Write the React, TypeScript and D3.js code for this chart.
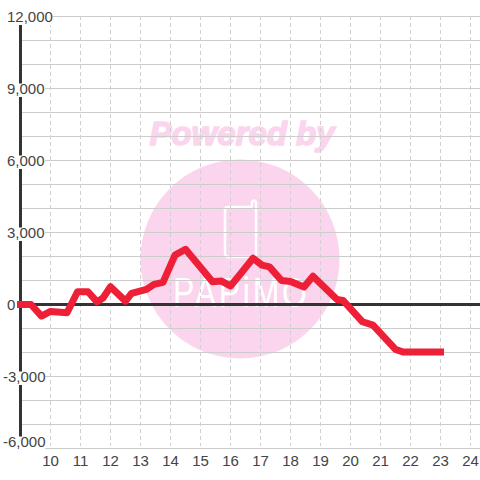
import React from "react";
import * as d3 from "d3";

const hours = [
  9, 9.35, 9.7, 10, 10.55, 10.9, 11.25, 11.55, 11.75, 12, 12.5, 12.7, 13.2,
  13.45, 13.75, 14.15, 14.5, 15.4, 15.7, 16, 16.35, 16.75, 17.05, 17.3, 17.7,
  18, 18.45, 18.75, 19.55, 19.75, 20.4, 20.75, 21.5, 21.75, 23,
];
const values = [
  0, 0, -480, -290, -345, 530, 530, 110, 270, 740, 140, 460, 630, 840, 920,
  2060, 2300, 950, 975, 770, 1300, 1925, 1640, 1570, 1000, 960, 725, 1180, 210,
  170, -720, -860, -1870, -1980, -1980,
];
const xTicks = [10, 11, 12, 13, 14, 15, 16, 17, 18, 19, 20, 21, 22, 23, 24];
const yLabels = [12000, 9000, 6000, 3000, 0, -3000, -6000];
const yGrid = d3.range(-6000, 12001, 1000);

const SIZE = 480;
const FONT = "'Liberation Sans', Arial, sans-serif";
const INK = "#444444";
const PINK = "#fbd5ee";
const GRID = "#cccccc";

const x = d3.scaleLinear().domain([9, 24]).range([20.5, 470.5]);
const y = d3.scaleLinear().domain([12000, -6000]).range([16.5, 448.5]);
// plain hyphen for negatives, as in the original labels
const fmt = (v: number) => d3.format(",")(v).replace("\u2212", "-");

const App: React.FC = () => {
  const line = d3
    .line<number>()
    .x((h) => x(h))
    .y((_, i) => y(values[i]));

  return (
    <svg
      width={SIZE}
      height={SIZE}
      style={{ position: "absolute", left: 0, top: 0 }}
      fontFamily={FONT}
    >
      <rect width={SIZE} height={SIZE} fill="#ffffff" />

      {/* watermark */}
      <circle cx={240} cy={259} r={99.5} fill={PINK} />
      <text
        x={242}
        y={145}
        textAnchor="middle"
        fontSize={33}
        fontWeight="bold"
        fontStyle="italic"
        fill={PINK}
        stroke={PINK}
        strokeWidth={1.5}
      >
        Powered by
      </text>
      <path
        d="M228 207 H250 Q252 207 252 205 V202 Q254 199 256 202 V254 Q256 257 253 257 H229 Q225 257 225 253 V210 Q225 207 228 207 Z"
        fill="none"
        stroke="#ffffff"
        strokeWidth={2.5}
      />
      <text
        transform="translate(240 307) scale(1 1.35)"
        textAnchor="middle"
        fontSize={32}
        textLength={134}
        lengthAdjust="spacing"
        fill="#ffffff"
      >
        PAPiMO
      </text>

      {/* grid */}
      {yGrid.map((v) => (
        <line
          key={v}
          x1={20.5}
          x2={SIZE}
          y1={y(v)}
          y2={y(v)}
          stroke={GRID}
          strokeWidth={1.2}
        />
      ))}
      {xTicks.map((t) => (
        <line
          key={t}
          x1={x(t)}
          x2={x(t)}
          y1={16}
          y2={446}
          stroke="#d0d0d0"
          strokeWidth={1}
          strokeDasharray="4 3"
        />
      ))}

      {/* axes */}
      <line x1={20.5} x2={20.5} y1={16} y2={448} stroke="#333333" strokeWidth={3} />
      <line x1={20.5} x2={SIZE} y1={y(0)} y2={y(0)} stroke="#333333" strokeWidth={3} />

      {/* y labels */}
      {yLabels.map((v) => {
        const start = v < 0 ? 3 : 7;
        const width = fmt(v).length === 1 ? 9 : v === 12000 ? 46 : v < 0 ? 42 : 38;
        // the bottom label sits above its tick so it clears the x labels
        const mid = v === -6000 ? y(v) - 7 : y(v);
        return (
          <g key={v}>
            <rect x={start} y={mid - 5} width={width} height={13.5} fill="#ffffff" />
            <text x={start} y={mid + 5.5} fontSize={15} fill={INK}>
              {fmt(v)}
            </text>
          </g>
        );
      })}

      {/* x labels */}
      {xTicks.map((t) => (
        <text
          key={t}
          x={x(t)}
          y={466}
          textAnchor="middle"
          fontSize={15}
          fill={INK}
        >
          {t}
        </text>
      ))}

      <path
        d={line(hours) ?? ""}
        fill="none"
        stroke="#ee2038"
        strokeWidth={7}
        strokeLinecap="square"
        strokeLinejoin="round"
      />
    </svg>
  );
};

export default App;
